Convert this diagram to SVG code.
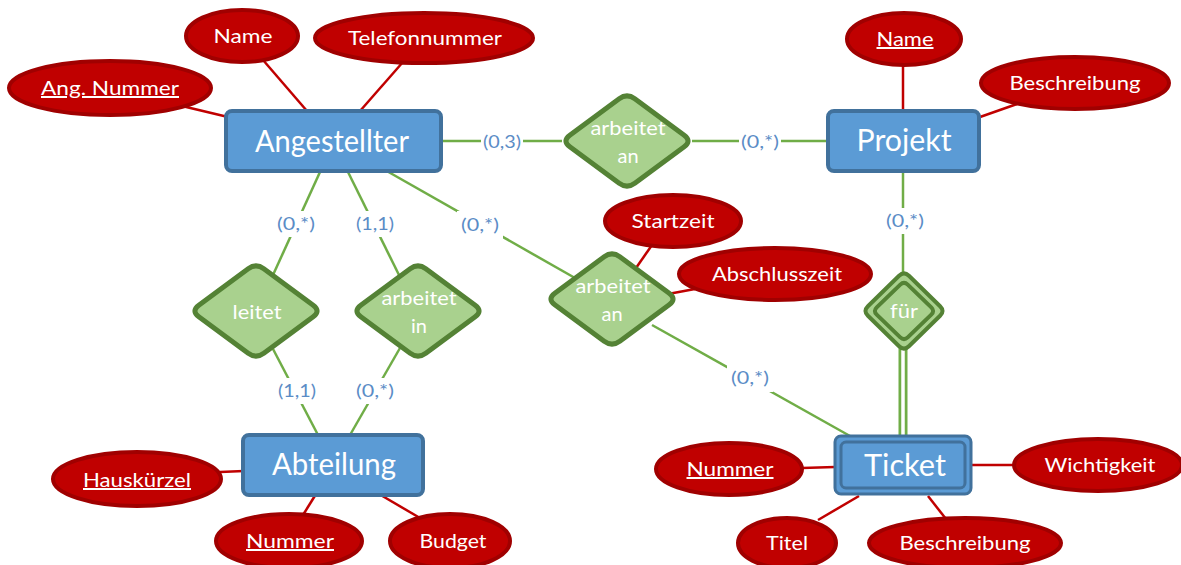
<svg xmlns="http://www.w3.org/2000/svg" xmlns:xlink="http://www.w3.org/1999/xlink" width="1181" height="565" viewBox="0 0 1181 565">
<style>
.attr ellipse{fill:#c00000;stroke:#a00000;stroke-width:4}
.at{fill:#ffffff;font-family:Lato,"Liberation Sans",sans-serif;font-size:20px;text-anchor:middle}
.u{text-decoration:underline}
.ent rect{fill:#5b9bd5;stroke:#41719c;stroke-width:4}
.et{fill:#ffffff;font-family:Lato,"Liberation Sans",sans-serif;font-size:30px;text-anchor:middle}
.rel{fill:#a9d18e;stroke:#548235;stroke-width:5;stroke-linejoin:round}
.rt{fill:#ffffff;font-family:Lato,"Liberation Sans",sans-serif;font-size:20px;text-anchor:middle}
.gl{stroke:#70ad47;stroke-width:2.5;fill:none}
.rl{stroke:#c00000;stroke-width:2.5;fill:none}
.card{fill:#5b8cc6;font-family:Lato,"Liberation Sans",sans-serif;font-size:18px;text-anchor:middle}
.bg{fill:#ffffff}
</style>
<defs>
<path id="dia" d="M 7.8,-42.24 L 57.2,-5.76 Q 65,0 57.2,5.76 L 7.8,42.24 Q 0,48 -7.8,42.24 L -57.2,5.76 Q -65,0 -57.2,-5.76 L -7.8,-42.24 Q 0,-48 7.8,-42.24 Z"/>
</defs>
<rect width="1181" height="565" fill="#ffffff"/>
<g id="connectors">
<line class="rl" x1="263" y1="60" x2="307" y2="111"/>
<line class="rl" x1="403" y1="62" x2="360" y2="111"/>
<line class="rl" x1="182" y1="106" x2="228" y2="117"/>
<line class="rl" x1="903" y1="64" x2="903" y2="111"/>
<line class="rl" x1="1017" y1="104" x2="980" y2="117"/>
<line class="rl" x1="652" y1="245" x2="636" y2="268"/>
<line class="rl" x1="695" y1="289" x2="668" y2="294"/>
<line class="rl" x1="802" y1="468" x2="835" y2="467"/>
<line class="rl" x1="971" y1="465" x2="1014" y2="465"/>
<line class="rl" x1="818" y1="520" x2="859" y2="496"/>
<line class="rl" x1="928" y1="496" x2="946" y2="519"/>
<line class="rl" x1="220" y1="472" x2="244" y2="471"/>
<line class="rl" x1="303" y1="515" x2="316" y2="494"/>
<line class="rl" x1="379" y1="494" x2="420" y2="518"/>
<line class="gl" x1="443" y1="141" x2="562" y2="141"/>
<line class="gl" x1="692" y1="141" x2="827" y2="141"/>
<line class="gl" x1="320" y1="172" x2="273" y2="275"/>
<line class="gl" x1="348" y1="172" x2="400" y2="277"/>
<line class="gl" x1="385" y1="170" x2="575" y2="278"/>
<line class="gl" x1="273" y1="349" x2="318" y2="435"/>
<line class="gl" x1="400" y1="348" x2="350" y2="435"/>
<line class="gl" x1="652" y1="325" x2="850" y2="436"/>
<line class="gl" x1="903" y1="173" x2="903" y2="272"/>
<line x1="903" y1="347" x2="903" y2="437" stroke="#70ad47" stroke-width="9" stroke-linecap="round"/>
<line x1="903" y1="347" x2="903" y2="437" stroke="#ffffff" stroke-width="3.5" stroke-linecap="round"/>
<rect class="bg" x="481" y="130" width="42" height="24"/>
<text class="card" x="502" y="148" textLength="38" lengthAdjust="spacingAndGlyphs">(0,3)</text>
<rect class="bg" x="739" y="130" width="42" height="24"/>
<text class="card" x="760" y="148" textLength="38" lengthAdjust="spacingAndGlyphs">(0,*)</text>
<rect class="bg" x="275" y="211" width="42" height="26"/>
<text class="card" x="296" y="230" textLength="38" lengthAdjust="spacingAndGlyphs">(0,*)</text>
<rect class="bg" x="354" y="211" width="42" height="26"/>
<text class="card" x="375" y="230" textLength="38" lengthAdjust="spacingAndGlyphs">(1,1)</text>
<rect class="bg" x="457" y="211" width="46" height="28"/>
<text class="card" x="480" y="231" textLength="38" lengthAdjust="spacingAndGlyphs">(0,*)</text>
<rect class="bg" x="276" y="378" width="42" height="26"/>
<text class="card" x="297" y="397" textLength="38" lengthAdjust="spacingAndGlyphs">(1,1)</text>
<rect class="bg" x="354" y="378" width="42" height="26"/>
<text class="card" x="375" y="397" textLength="38" lengthAdjust="spacingAndGlyphs">(0,*)</text>
<rect class="bg" x="727" y="364" width="46" height="28"/>
<text class="card" x="750" y="384" textLength="38" lengthAdjust="spacingAndGlyphs">(0,*)</text>
<rect class="bg" x="884" y="208" width="42" height="26"/>
<text class="card" x="905" y="227" textLength="38" lengthAdjust="spacingAndGlyphs">(0,*)</text>
</g>
<g id="angestellter" class="ent"><rect x="226" y="111" width="215" height="60" rx="6"/><text class="et" x="332" y="152" textLength="154" lengthAdjust="spacingAndGlyphs">Angestellter</text></g>
<g id="projekt" class="ent"><rect x="828" y="111" width="151" height="60" rx="6"/><text class="et" x="904" y="151" textLength="95" lengthAdjust="spacingAndGlyphs">Projekt</text></g>
<g id="abteilung" class="ent"><rect x="243" y="435" width="180" height="60" rx="6"/><text class="et" x="334" y="475" textLength="124" lengthAdjust="spacingAndGlyphs">Abteilung</text></g>
<g id="ticket" class="ent"><rect x="835" y="436" width="136" height="58" rx="6" style="stroke-width:3"/><rect x="841" y="442" width="124" height="46" rx="5" style="stroke-width:3"/><text class="et" x="905" y="476" textLength="82" lengthAdjust="spacingAndGlyphs">Ticket</text></g>
<g id="rel-arbeitet-an-projekt"><use xlink:href="#dia" class="rel" transform="translate(627,141)"/><text class="rt" x="628" y="135" textLength="75" lengthAdjust="spacingAndGlyphs">arbeitet</text><text class="rt" x="628" y="163">an</text></g>
<g id="rel-leitet"><use xlink:href="#dia" class="rel" transform="translate(256,311)"/><text class="rt" x="257" y="319" textLength="49" lengthAdjust="spacingAndGlyphs">leitet</text></g>
<g id="rel-arbeitet-in"><use xlink:href="#dia" class="rel" transform="translate(418,311)"/><text class="rt" x="419" y="305" textLength="75" lengthAdjust="spacingAndGlyphs">arbeitet</text><text class="rt" x="419" y="333">in</text></g>
<g id="rel-arbeitet-an-ticket"><use xlink:href="#dia" class="rel" transform="translate(612,299)"/><text class="rt" x="613" y="293" textLength="75" lengthAdjust="spacingAndGlyphs">arbeitet</text><text class="rt" x="612" y="321">an</text></g>
<g id="rel-fuer" transform="translate(904,311)">
<path class="rel" style="stroke-width:4" d="M 4.92,-35.2 L 36.08,-4.8 Q 41,0 36.08,4.8 L 4.92,35.2 Q 0,40 -4.92,35.2 L -36.08,4.8 Q -41,0 -36.08,-4.8 L -4.92,-35.2 Q 0,-40 4.92,-35.2 Z"/>
<path class="rel" style="stroke-width:4" d="M 3.72,-26.4 L 27.28,-3.6 Q 31,0 27.28,3.6 L 3.72,26.4 Q 0,30 -3.72,26.4 L -27.28,3.6 Q -31,0 -27.28,-3.6 L -3.72,-26.4 Q 0,-30 3.72,-26.4 Z"/>
<text class="rt" x="0" y="7" textLength="28" lengthAdjust="spacingAndGlyphs">für</text></g>
<g id="attr-name" class="attr"><ellipse cx="242" cy="36" rx="56" ry="26"/><text class="at" x="243" y="43" textLength="59" lengthAdjust="spacingAndGlyphs">Name</text></g>
<g id="attr-telefonnummer" class="attr"><ellipse cx="424" cy="38" rx="109" ry="25"/><text class="at" x="425" y="45" textLength="154" lengthAdjust="spacingAndGlyphs">Telefonnummer</text></g>
<g id="attr-ang-nummer" class="attr"><ellipse cx="110" cy="88" rx="101" ry="27"/><text class="at u" x="110" y="95" textLength="138" lengthAdjust="spacingAndGlyphs">Ang. Nummer</text></g>
<g id="attr-projekt-name" class="attr"><ellipse cx="904" cy="39" rx="57" ry="26"/><text class="at u" x="905" y="46" textLength="57" lengthAdjust="spacingAndGlyphs">Name</text></g>
<g id="attr-projekt-beschreibung" class="attr"><ellipse cx="1075" cy="83" rx="94" ry="26"/><text class="at" x="1075" y="90" textLength="131" lengthAdjust="spacingAndGlyphs">Beschreibung</text></g>
<g id="attr-startzeit" class="attr"><ellipse cx="673" cy="221" rx="68" ry="26"/><text class="at" x="673" y="228" textLength="83" lengthAdjust="spacingAndGlyphs">Startzeit</text></g>
<g id="attr-abschlusszeit" class="attr"><ellipse cx="775" cy="274" rx="96" ry="26"/><text class="at" x="777" y="281" textLength="130" lengthAdjust="spacingAndGlyphs">Abschlusszeit</text></g>
<g id="attr-ticket-nummer" class="attr"><ellipse cx="729" cy="469" rx="73" ry="26"/><text class="at u" x="730" y="476" textLength="87" lengthAdjust="spacingAndGlyphs">Nummer</text></g>
<g id="attr-wichtigkeit" class="attr"><ellipse cx="1098" cy="465" rx="84" ry="26"/><text class="at" x="1100" y="472" textLength="111" lengthAdjust="spacingAndGlyphs">Wichtigkeit</text></g>
<g id="attr-titel" class="attr"><ellipse cx="787" cy="543" rx="49" ry="25"/><text class="at" x="787" y="550" textLength="42" lengthAdjust="spacingAndGlyphs">Titel</text></g>
<g id="attr-ticket-beschreibung" class="attr"><ellipse cx="965" cy="543" rx="96" ry="25"/><text class="at" x="965" y="550" textLength="131" lengthAdjust="spacingAndGlyphs">Beschreibung</text></g>
<g id="attr-hauskuerzel" class="attr"><ellipse cx="137" cy="479" rx="84" ry="27"/><text class="at u" x="137" y="487" textLength="108" lengthAdjust="spacingAndGlyphs">Hauskürzel</text></g>
<g id="attr-abteilung-nummer" class="attr"><ellipse cx="289" cy="541" rx="73" ry="27"/><text class="at u" x="290" y="548" textLength="88" lengthAdjust="spacingAndGlyphs">Nummer</text></g>
<g id="attr-budget" class="attr"><ellipse cx="450" cy="541" rx="60" ry="27"/><text class="at" x="453" y="548" textLength="67" lengthAdjust="spacingAndGlyphs">Budget</text></g>
</svg>
